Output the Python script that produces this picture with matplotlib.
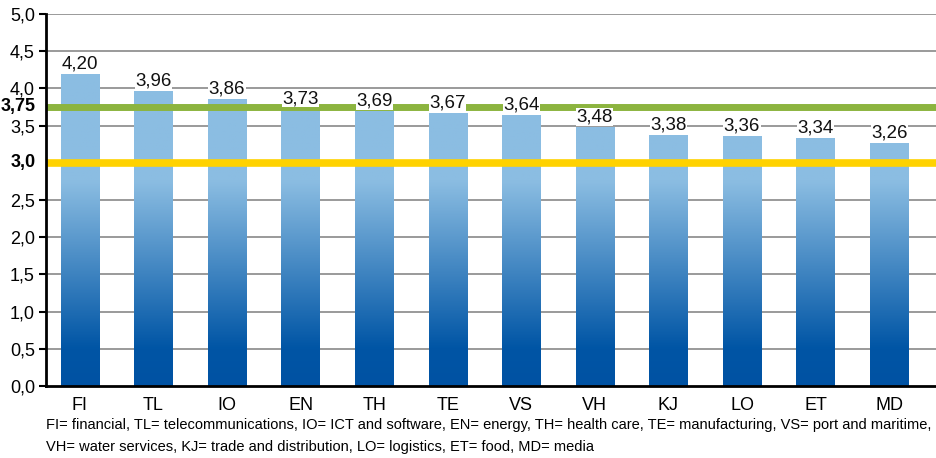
import numpy as np
import matplotlib

matplotlib.use("Agg")
import matplotlib.pyplot as plt  # noqa: E402
from matplotlib.colors import LinearSegmentedColormap  # noqa: E402

categories = ["FI", "TL", "IO", "EN", "TH", "TE", "VS", "VH", "KJ", "LO", "ET", "MD"]
values = [4.20, 3.96, 3.86, 3.73, 3.69, 3.67, 3.64, 3.48, 3.38, 3.36, 3.34, 3.26]
yticks = [0.0, 0.5, 1.0, 1.5, 2.0, 2.5, 3.5, 4.0, 4.5, 5.0]
target_green = 3.75
target_yellow = 3.0
footnote = ("FI= financial, TL= telecommunications, IO= ICT and software, EN= energy, TH= health care, "
            "TE= manufacturing, VS= port and maritime,\n"
            "VH= water services, KJ= trade and distribution, LO= logistics, ET= food, MD= media")

plt.rcParams["font.family"] = ["Liberation Sans", "DejaVu Sans"]

fig = plt.figure(figsize=(9.37, 4.58), dpi=100)
ax = fig.add_axes([46 / 937, 1 - 386 / 458, 1 - 46 / 937, (386 - 14) / 458])

x = np.arange(len(categories))
width = 0.52
ax.set_xlim(-0.46, len(categories) - 0.35)
ax.set_ylim(0, 5)

# grid
for t in np.arange(0.5, 5.01, 0.5):
    ax.axhline(t, color="#7f7f7f", lw=1.1, zorder=1)

# gradient bars
cmap = LinearSegmentedColormap.from_list(
    "bar", [(0.0, "#0052a3"), (0.1, "#0055a5"), (0.55, "#8bbde2"), (1.0, "#8bbde2")])
grad = np.linspace(0, 1, 256).reshape(-1, 1)
bars = ax.bar(x, values, width=width, color="none", zorder=2)
for b in bars:
    im = ax.imshow(grad, cmap=cmap, origin="lower", aspect="auto",
                   extent=[b.get_x(), b.get_x() + b.get_width(), 0, 5], zorder=2)
    im.set_clip_path(b)

ax.axhline(target_green, color="#8cb43f", lw=5, zorder=3)
ax.axhline(target_yellow, color="#ffd200", lw=5.5, zorder=3)

for xi, v in zip(x, values):
    ax.text(xi, v + 0.02, f"{v:.2f}".replace(".", ","), ha="center", va="bottom",
            fontsize=13.5, color="#111111", zorder=4,
            bbox=dict(facecolor="white", edgecolor="none", pad=0.3))

ax.set_yticks(yticks)
ax.set_yticklabels([f"{t:.1f}".replace(".", ",") for t in yticks], fontsize=13)
ax.set_xticks(x)
ax.set_xticklabels(categories, fontsize=13)
ax.tick_params(axis="x", length=0, pad=8)
ax.tick_params(axis="y", length=5, width=1.5, direction="out", pad=3)

for val in (target_green, target_yellow):
    ax.text(-0.012, val, (f"{val:.2f}" if val == target_green else f"{val:.1f}").replace(".", ","),
            transform=ax.get_yaxis_transform(), ha="right", va="center",
            fontsize=13, fontweight="bold")

for s in ("top", "right"):
    ax.spines[s].set_visible(False)
ax.spines["left"].set_linewidth(2)
ax.spines["bottom"].set_linewidth(2)
ax.spines["left"].set_zorder(5)
ax.spines["bottom"].set_zorder(5)

fig.text(46 / 937, 1 - 418 / 458, footnote, ha="left", va="top", fontsize=10.5,
         linespacing=1.75)

fig.savefig("out.png", dpi=100)
plt.close(fig)
